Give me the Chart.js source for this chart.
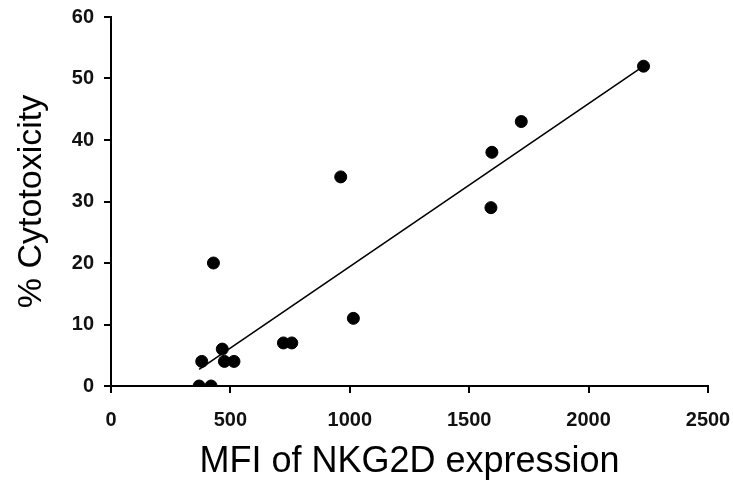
<!DOCTYPE html>
<html>
<head>
<meta charset="utf-8">
<script src="https://cdn.jsdelivr.net/npm/chart.js@4/dist/chart.umd.min.js"></script>
<style>
body{margin:0;background:#fff}
</style>
</head>
<body>
<canvas id="myChart" width="733" height="491"></canvas>
<script>
// MFI of NKG2D expression vs % cytotoxicity
let mfi = [369, 419, 380, 466, 475, 515, 429, 722, 757, 1015, 962, 1595, 1591, 1718, 2230]
let cytotoxicity = [0, 0, 4, 6, 4, 4, 20, 7, 7, 11, 34, 38, 29, 43, 52]

// regression line end points
let fitX = [369, 2230]
let fitY = [2.7, 52]

let points = mfi.map((x,i)=>({x:x, y:cytotoxicity[i]}))
let fitLine = fitX.map((x,i)=>({x:x, y:fitY[i]}))

let fontFamily = "Arial, 'Liberation Sans', sans-serif"

new Chart("myChart", {
  type: "scatter",
  data: {
    datasets: [{
      data: points,
      backgroundColor: "#000",
      borderColor: "#000",
      pointRadius: 6,
      order: 1
    },{
      type: "line",
      data: fitLine,
      borderColor: "#000",
      borderWidth: 1.6,
      pointRadius: 0,
      fill: false,
      order: 2
    }]
  },
  options: {
    responsive: false,
    animation: false,
    layout: {padding: {top: 17, right: 25, left: 0, bottom: 0}},
    plugins: {
      legend: {display: false},
      tooltip: {enabled: false}
    },
    scales: {
      x: {
        type: "linear",
        min: 0,
        max: 2500,
        afterFit: (scale)=>{
          scale.height = 105
          scale.paddingLeft = 0
          scale.paddingRight = 0
        },
        ticks: {
          stepSize: 500,
          color: "#111",
          padding: 15,
          maxRotation: 0,
          callback: (v)=>String(v),
          font: {family: fontFamily, size: 20, weight: "bold"}
        },
        grid: {drawOnChartArea: false, tickLength: 7, color: "#000", lineWidth: 2},
        border: {color: "#000", width: 2},
        title: {
          display: true,
          text: "MFI of NKG2D expression",
          color: "#000",
          padding: {top: 7, bottom: 7},
          font: {family: fontFamily, size: 36}
        }
      },
      y: {
        min: 0,
        max: 60,
        afterFit: (scale)=>{
          scale.width = 111
          scale.paddingTop = 0
          scale.paddingBottom = 0
        },
        ticks: {
          stepSize: 10,
          color: "#111",
          padding: 10,
          font: {family: fontFamily, size: 20, weight: "bold"}
        },
        grid: {drawOnChartArea: false, tickLength: 7, color: "#000", lineWidth: 2},
        border: {color: "#000", width: 2},
        title: {
          display: true,
          text: "% Cytotoxicity",
          color: "#000",
          padding: {top: 11, bottom: 11},
          font: {family: fontFamily, size: 34}
        }
      }
    }
  }
});
</script>
</body>
</html>
